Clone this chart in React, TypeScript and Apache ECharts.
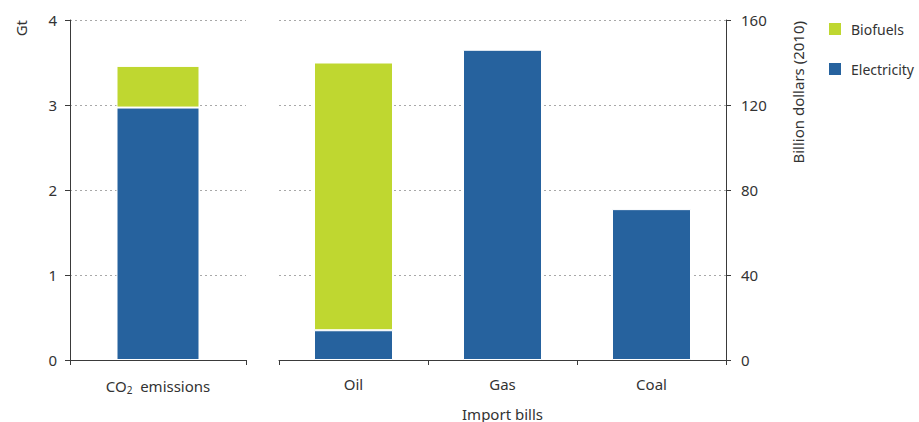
import React, { useEffect, useRef } from "react";
import * as echarts from "echarts";

const emissionCategories = ["CO2 emissions"];
const importCategories = ["Oil", "Gas", "Coal"];
const emissionElectricity = [2.97];
const emissionBiofuels = [0.49];
const importElectricity = [14, 146, 71];
const importBiofuels = [126, null, null];
const gtTicks = { min: 0, max: 4, interval: 1 };
const usdTicks = { min: 0, max: 160, interval: 40 };

const GREEN = "#bfd730";
const BLUE = "#26629e";
const TEXT = "#333333";
const AXIS = "#3a3a3a";
const FONT = "Noto Sans";

export default function App() {
  const ref = useRef<HTMLDivElement>(null);
  useEffect(() => {
    document.body.style.margin = "0";
    if (!ref.current) return;
    const chart = echarts.init(ref.current, null, { renderer: "svg" });
    const axisLine = { show: true, lineStyle: { color: AXIS, width: 1 } };
    const axisTick = { show: true, length: 5, lineStyle: { color: AXIS, width: 1 } };
    const splitLine = { show: true, lineStyle: { color: "#a8a8a8", type: [2, 3] as any, width: 1 } };
    const labelStyle = { color: TEXT, fontSize: 15, fontFamily: FONT };
    const barCommon = {
      type: "bar" as const,
      itemStyle: { borderColor: "#ffffff", borderWidth: 1 },
    };
    chart.setOption({
      animation: false,
      textStyle: { fontFamily: FONT },
      legend: {
        orient: "vertical",
        left: 827,
        top: 21,
        itemWidth: 14,
        itemHeight: 14,
        itemGap: 24,
        padding: 0,
        icon: "rect",
        data: ["Biofuels", "Electricity"],
        textStyle: { color: TEXT, fontSize: 14, fontFamily: FONT, padding: [0, 0, 0, 4] },
      },
      grid: [
        { left: 70, top: 20, width: 176, height: 340, outerBoundsMode: "none" },
        { left: 279, top: 20, width: 447, height: 340, outerBoundsMode: "none" },
      ],
      xAxis: [
        {
          type: "category",
          gridIndex: 0,
          data: emissionCategories,
          axisLine,
          axisTick,
          axisLabel: {
            margin: 16,
            ...labelStyle,
            formatter: (v: string) =>
              v === "CO2 emissions" ? "{n|CO}{s|2}{n|  emissions}" : v,
            rich: {
              n: { ...labelStyle },
              s: { color: TEXT, fontSize: 10, fontFamily: FONT, padding: [9, 0, 0, 0] },
            },
          },
        },
        {
          type: "category",
          gridIndex: 1,
          data: importCategories,
          axisLine,
          axisTick,
          axisLabel: { margin: 16, ...labelStyle },
          name: "Import bills",
          nameLocation: "middle",
          nameGap: 46,
          nameTextStyle: { ...labelStyle },
        },
      ],
      yAxis: [
        {
          type: "value",
          gridIndex: 0,
          ...gtTicks,
          axisLine,
          axisTick,
          axisLabel: { margin: 13, ...labelStyle },
          splitLine,
        },
        {
          type: "value",
          gridIndex: 1,
          position: "right",
          ...usdTicks,
          axisLine,
          axisTick,
          axisLabel: { margin: 15, ...labelStyle },
          splitLine,
        },
      ],
      series: [
        {
          ...barCommon,
          name: "Electricity",
          xAxisIndex: 0,
          yAxisIndex: 0,
          stack: "e",
          barWidth: 83,
          data: emissionElectricity,
          itemStyle: { ...barCommon.itemStyle, color: BLUE },
        },
        {
          ...barCommon,
          name: "Biofuels",
          xAxisIndex: 0,
          yAxisIndex: 0,
          stack: "e",
          barWidth: 83,
          data: emissionBiofuels,
          itemStyle: { ...barCommon.itemStyle, color: GREEN },
        },
        {
          ...barCommon,
          name: "Electricity",
          xAxisIndex: 1,
          yAxisIndex: 1,
          stack: "i",
          barWidth: 79,
          data: importElectricity,
          itemStyle: { ...barCommon.itemStyle, color: BLUE },
        },
        {
          ...barCommon,
          name: "Biofuels",
          xAxisIndex: 1,
          yAxisIndex: 1,
          stack: "i",
          barWidth: 79,
          data: importBiofuels,
          itemStyle: { ...barCommon.itemStyle, color: GREEN },
        },
      ],
      graphic: [
        {
          type: "text",
          x: 21,
          y: 20,
          rotation: Math.PI / 2,
          style: {
            text: "Gt",
            fill: TEXT,
            fontSize: 15,
            fontFamily: FONT,
            align: "right",
            verticalAlign: "middle",
          },
        },
        {
          type: "text",
          x: 798,
          y: 21,
          rotation: Math.PI / 2,
          style: {
            text: "Billion dollars (2010)",
            fill: TEXT,
            fontSize: 15,
            fontFamily: FONT,
            align: "right",
            verticalAlign: "middle",
          },
        },
      ],
    });
    return () => chart.dispose();
  }, []);
  return <div ref={ref} style={{ width: 919, height: 422 }} />;
}
